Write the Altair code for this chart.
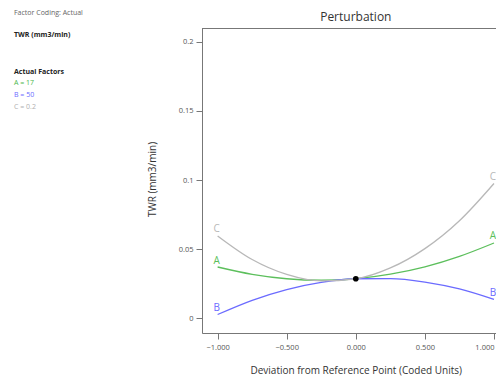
import altair as alt
import pandas as pd

# ---- data ----
x_points = [-1.0, -0.75, -0.5, -0.25, 0.0, 0.25, 0.5, 0.75, 1.0]
twr_A = [0.0370, 0.0317, 0.0285, 0.0274, 0.0285, 0.0318, 0.0371, 0.0447, 0.0544]
twr_B = [0.0026, 0.0129, 0.0207, 0.0259, 0.0285, 0.0286, 0.0261, 0.0211, 0.0135]
twr_C = [0.0595, 0.0424, 0.0316, 0.0269, 0.0285, 0.0363, 0.0503, 0.0705, 0.0975]
factors = ["A", "B", "C"]
factor_colors = ["#5cbf5c", "#6b6bff", "#b8b8b8"]
ref_point_x = [0.0]
ref_point_y = [0.0285]

x_ticks = [-1.0, -0.5, 0.0, 0.5, 1.0]
y_ticks = [0, 0.05, 0.1, 0.15, 0.2]

chart_title = "Perturbation"
panel_text = ["Factor Coding: Actual", "TWR (mm3/min)", "Actual Factors", "A = 17", "B = 50", "C = 0.2"]
panel_color = ["#666666", "#222222", "#222222", "#4cb84c", "#6b6bff", "#b0b0b0"]
panel_weight = ["normal", "bold", "bold", "normal", "normal", "normal"]
panel_y = [-15.3, 7, 43.7, 54.7, 67, 79]

FONT = "Open Sans"
W, H = 294, 305

rows = []
for name, vals in zip(factors, [twr_A, twr_B, twr_C]):
    for xv, yv in zip(x_points, vals):
        rows.append({"factor": name, "x": xv, "y": yv})
df = pd.DataFrame(rows)

ends = []
for name, vals in zip(factors, [twr_A, twr_B, twr_C]):
    ends.append({"factor": name, "x": x_points[0], "y": vals[0]})
    ends.append({"factor": name, "x": x_points[-1], "y": vals[-1]})
ends_df = pd.DataFrame(ends)

pt_df = pd.DataFrame({"x": ref_point_x, "y": ref_point_y})

xscale = alt.Scale(domain=[-1.113, 1.0145], nice=False, zero=False)
yscale = alt.Scale(domain=[-0.0108, 0.2101], nice=False, zero=False)
cscale = alt.Scale(domain=factors, range=factor_colors)

x_axis = alt.Axis(values=x_ticks, format=".3f", grid=False, tickSize=6,
                  labelFontSize=7.5, labelColor="#555555", labelPadding=4,
                  labelFont=FONT, domainColor="#777777", tickColor="#777777",
                  labelAlign=alt.ExprRef("datum.value >= 1 ? 'right' : 'center'"),
                  labelBound=False, labelOverlap=False,
                  title="Deviation from Reference Point (Coded Units)",
                  titleFont=FONT, titleFontSize=10, titleFontWeight="normal",
                  titleColor="#333333", titleX=153.7, titleY=37.5,
                  titleBaseline="middle", titleAlign="center")
y_axis = alt.Axis(values=y_ticks, format="~g", grid=False, tickSize=6,
                  labelFontSize=7.5, labelColor="#555555", labelPadding=3,
                  labelFont=FONT, domainColor="#777777", tickColor="#777777",
                  title="TWR (mm3/min)", titleFont=FONT, titleFontSize=10,
                  titleFontWeight="normal", titleColor="#333333",
                  titleX=-50, titleY=151, titleAngle=-90,
                  titleBaseline="middle", titleAlign="center")

lines = alt.Chart(df).mark_line(interpolate="monotone", strokeWidth=1.3).encode(
    x=alt.X("x:Q", scale=xscale, axis=x_axis),
    y=alt.Y("y:Q", scale=yscale, axis=y_axis),
    color=alt.Color("factor:N", scale=cscale, legend=None),
    detail="factor:N",
)

top_frame = alt.Chart(pt_df).mark_rule(color="#777777", strokeWidth=1).encode(
    x=alt.value(0), x2=alt.value(W), y=alt.value(0.5)
)

labels = alt.Chart(ends_df).mark_text(font=FONT, fontSize=10, dy=-6.5, dx=-1,
                                      align="center", baseline="middle").encode(
    x=alt.X("x:Q", scale=xscale),
    y=alt.Y("y:Q", scale=yscale),
    text="factor:N",
    color=alt.Color("factor:N", scale=cscale, legend=None),
)

point = alt.Chart(pt_df).mark_circle(size=32, color="black", opacity=1).encode(
    x=alt.X("x:Q", scale=xscale),
    y=alt.Y("y:Q", scale=yscale),
)

title_df = pd.DataFrame({"x": ref_point_x, "text": [chart_title]})
title_mark = alt.Chart(title_df).mark_text(
    font=FONT, fontSize=12, color="#333333", align="center",
    baseline="alphabetic").encode(
    x=alt.X("x:Q", scale=xscale), y=alt.value(-7), text="text:N")

panel_layers = []
for t, c, w, py in zip(panel_text, panel_color, panel_weight, panel_y):
    panel_layers.append(
        alt.Chart(pd.DataFrame({"text": [t]})).mark_text(
            font=FONT, fontSize=7, align="left", baseline="middle",
            color=c, fontWeight=w).encode(
            x=alt.value(-188), y=alt.value(py), text="text:N")
    )

chart = alt.layer(lines, top_frame, labels, point, title_mark, *panel_layers).properties(
    width=W, height=H,
    padding={"left": 194, "top": 20, "right": 0, "bottom": 44},
    autosize=alt.AutoSizeParams(type="none"),
).configure_view(stroke=None).configure(background="white")

chart.save("out.html", embed_options={"renderer": "svg", "actions": False})
